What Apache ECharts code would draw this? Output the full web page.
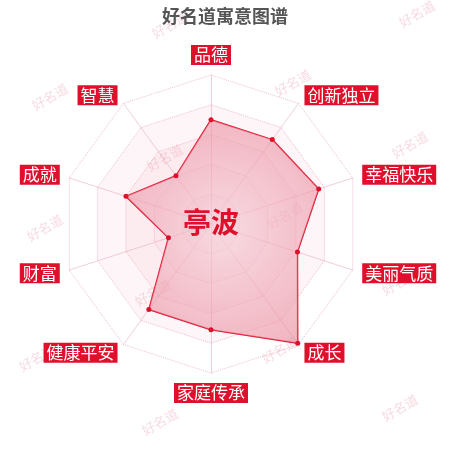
<!DOCTYPE html>
<html>
<head>
<meta charset="utf-8">
<script src="https://cdn.jsdelivr.net/npm/echarts@6/dist/echarts.min.js"></script>
<style>
html, body { margin: 0; padding: 0; background: #fff; }
#main { width: 450px; height: 450px; }
</style>
</head>
<body>
<div id="main"></div>
<script>
var myChart = echarts.init(document.getElementById('main'));

// 指标（逆时针，从顶部开始）
var indicatorNames = ['品德', '智慧', '成就', '财富', '健康平安', '家庭传承', '成长', '美丽气质', '幸福快乐', '创新独立'];
var scoreValues = [70, 40, 60, 30, 71, 71, 99, 61, 76, 70];
var maxScore = 100;
var personName = '亭波';

// 水印位置
var marks = [
    [170, 25], [417, 14], [50, 97], [293, 83], [410, 145], [165, 158],
    [45, 228], [285, 216], [400, 282], [153, 293], [37, 358], [280, 350],
    [160, 422], [400, 408]
];

var red = '#e0102c';
var font = '"Noto Sans CJK SC", sans-serif';

var graphics = marks.map(function (p) {
    return {
        type: 'text',
        x: p[0],
        y: p[1],
        rotation: Math.PI / 6,
        z: 0,
        style: {
            text: '好名道',
            fill: 'rgba(230,150,170,0.35)',
            font: '13px ' + font,
            textAlign: 'center',
            textVerticalAlign: 'middle'
        }
    };
});
graphics.push({
    type: 'text',
    x: 211,
    y: 222,
    z: 100,
    style: {
        text: personName,
        fill: red,
        font: 'bold 28px ' + font,
        textAlign: 'center',
        textVerticalAlign: 'middle'
    }
});

var option = {
    title: {
        text: '好名道寓意图谱',
        left: 'center',
        top: 2,
        textStyle: {
            fontFamily: font,
            fontSize: 18,
            fontWeight: 'bold',
            color: '#555'
        }
    },
    graphic: graphics,
    radar: {
        center: [211, 224],
        radius: 149,
        startAngle: 90,
        splitNumber: 5,
        shape: 'polygon',
        nameGap: 10,
        axisName: {
            color: '#fff',
            backgroundColor: red,
            fontFamily: font,
            fontSize: 17,
            lineHeight: 18,
            padding: [1, 3]
        },
        indicator: indicatorNames.map(function (n) {
            return { name: n, max: maxScore };
        }),
        axisLine: {
            lineStyle: { color: 'rgba(230,160,175,0.5)', width: 1 }
        },
        splitLine: {
            lineStyle: { color: 'rgba(230,150,170,0.6)', type: 'dotted', width: 1 }
        },
        splitArea: {
            show: true,
            areaStyle: {
                color: [
                    'rgba(238,160,178,0.32)',
                    'rgba(238,160,178,0.26)',
                    'rgba(238,160,178,0.2)',
                    'rgba(238,160,178,0.1)',
                    'rgba(255,255,255,0)'
                ]
            }
        }
    },
    series: [{
        type: 'radar',
        z: 2,
        symbol: 'circle',
        symbolSize: 5,
        itemStyle: { color: red },
        lineStyle: { color: red, width: 1.5 },
        areaStyle: {
            color: new echarts.graphic.RadialGradient(0.5, 0.5, 0.7, [
                { offset: 0, color: 'rgba(246,214,222,0.9)' },
                { offset: 1, color: 'rgba(232,128,148,0.85)' }
            ])
        },
        data: [{ value: scoreValues, name: personName }]
    }]
};

myChart.setOption(option);
</script>
</body>
</html>
